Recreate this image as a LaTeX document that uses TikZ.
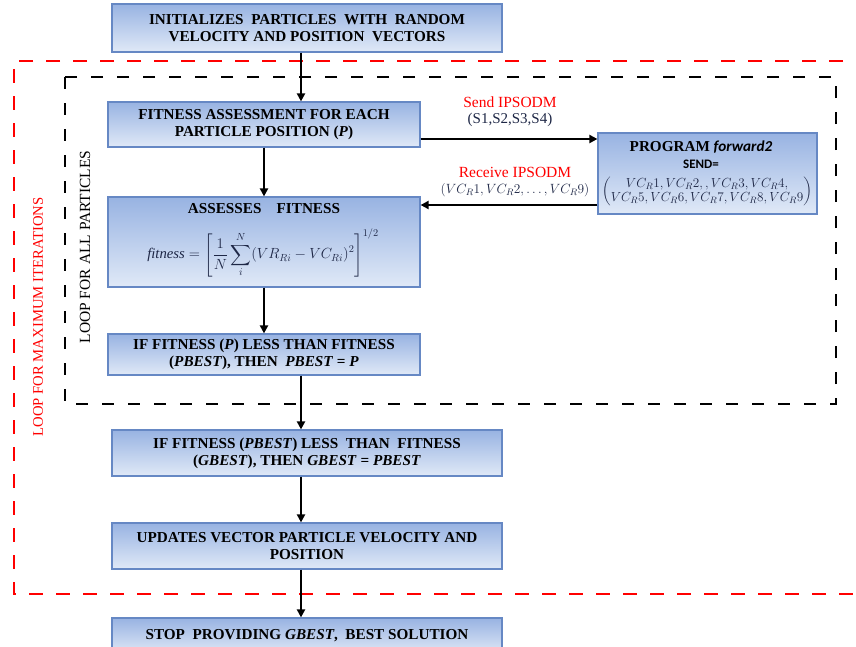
\documentclass[tikz,border=0pt]{standalone}
\usepackage{fix-cm}
\usepackage{amsmath}
\usepackage{fontspec}
\setmainfont{Liberation Serif}
\newfontfamily\calib{Carlito}
\usetikzlibrary{arrows.meta,calc}
\definecolor{boxtop}{HTML}{98B3E2}
\definecolor{boxbot}{HTML}{E0E9F7}
\definecolor{boxline}{HTML}{6688C4}
\definecolor{mathc}{HTML}{1E2746}
\definecolor{redl}{HTML}{FF0000}
\begin{document}
\begin{tikzpicture}[x=1pt,y=-1pt,
  flowbox/.style={draw=boxline,line width=1.2pt,top color=boxtop,bottom color=boxbot,
    inner sep=0pt,anchor=center,align=center,text=black,
    font=\fontsize{15.2}{17}\selectfont\bfseries},
  intext/.style={inner sep=0pt,anchor=center,align=center,text=black,
    font=\fontsize{15.2}{17}\selectfont\bfseries},
  arr/.style={line width=2.4pt,-{Triangle[length=8pt,width=8pt]}},
  lbl/.style={font=\fontsize{15}{17}\selectfont,inner sep=0pt,anchor=center},
  redloop/.style={draw=redl,line width=2.8pt,dash pattern=on 14pt off 13pt},
  blackloop/.style={draw=black,line width=2.8pt,dash pattern=on 12pt off 14pt}]
\clip (0,0) rectangle (856,646);
\fill[white] (0,0) rectangle (856,646);

% loops
\draw[redloop] (870,61) -- (14,61) -- (14,594) -- (870,594);
\draw[blackloop] (65,77) rectangle (836,404);

% boxes
\node[flowbox,minimum width=390pt,minimum height=48pt] (b1) at (307,28)
  {INITIALIZES\ \ PARTICLES\ \ WITH\ \ RANDOM\\VELOCITY AND POSITION\ \ VECTORS};
\node[flowbox,minimum width=312pt,minimum height=45pt] (b2) at (264,124.5)
  {FITNESS ASSESSMENT FOR EACH\\PARTICLE POSITION (\textit{P})};
\node[flowbox,minimum width=312pt,minimum height=90pt] (b3) at (264,242) {};
\node[intext] (b3t) at (264,209) {ASSESSES\quad FITNESS};
\node[intext,text=mathc,font=\fontsize{14.7}{17}\selectfont] (b3f) at (263,253)
  {$\displaystyle \mathit{fitness}=\left[\frac{1}{N}\sum_{i}^{N}(VR_{Ri}-VC_{Ri})^2\right]^{1/2}$};
\node[flowbox,minimum width=312pt,minimum height=41pt] (b4) at (264,354.5)
  {IF FITNESS (\textit{P}) LESS THAN FITNESS\\(\textit{PBEST}), THEN\ \ \textit{PBEST} = \textit{P}};
\node[flowbox,minimum width=390pt,minimum height=46pt] (b5) at (307,453)
  {IF FITNESS (\textit{PBEST}) LESS\ \ THAN\ \ FITNESS\\(\textit{GBEST}), THEN\ \textit{GBEST} = \textit{PBEST}};
\node[flowbox,minimum width=390pt,minimum height=46pt] (b6) at (307,546)
  {UPDATES VECTOR PARTICLE VELOCITY AND\\POSITION};
\node[flowbox,minimum width=390pt,minimum height=36pt] (b7) at (307,636)
  {STOP\ \ PROVIDING \textit{GBEST},\ \ BEST SOLUTION};
\node[flowbox,minimum width=219pt,minimum height=81pt] (prog) at (707.5,173.5) {};
\node[intext] (progt) at (701,147) {PROGRAM {\calib\itshape forward2}};
\node[intext,font=\calib\bfseries\fontsize{13}{14}\selectfont] (progs) at (701,164.5) {SEND=};
\node[intext,text=mathc,font=\fontsize{13.2}{15}\selectfont] (progm) at (707,191.5)
  {$\left(\renewcommand{\arraystretch}{0.95}\begin{array}{@{}c@{}}VC_R1,VC_R2,,VC_R3,VC_R4,\\VC_R5,VC_R6,VC_R7,VC_R8,VC_R9\end{array}\right)$};

% loop labels
\node[lbl,rotate=90,text=black,font=\fontsize{15.5}{17}\selectfont] (lap) at (85,247) {LOOP FOR ALL PARTICLES};
\node[lbl,rotate=90,text=redl,font=\fontsize{14.7}{17}\selectfont] (lmi) at (38,317) {LOOP FOR MAXIMUM ITERATIONS};

% vertical arrows
\coordinate (xa) at (301,0);
\draw[arr] (xa |- b1.south) -- (xa |- b2.north);
\draw[arr] (b2.south) -- (b3.north);
\draw[arr] (b3.south) -- (b4.north);
\draw[arr] (xa |- b4.south) -- (xa |- b5.north);
\draw[arr] (xa |- b5.south) -- (xa |- b6.north);
\draw[arr] (xa |- b6.south) -- (xa |- b7.north);

% send / receive
\coordinate (ys) at (0,139);
\coordinate (yr) at (0,205);
\draw[arr] (ys -| b2.east) -- (ys -| prog.west);
\draw[arr] (yr -| prog.west) -- (yr -| b3.east);
\node[lbl,text=redl,font=\fontsize{15.5}{17}\selectfont] (sl) at (510,102) {Send IPSODM};
\node[lbl,text=mathc] (sa) at (510,120) {(S1,S2,S3,S4)};
\node[lbl,text=redl,font=\fontsize{15.5}{17}\selectfont] (rl) at (515,172) {Receive IPSODM};
\node[lbl,text=mathc,font=\fontsize{13.4}{15}\selectfont] (ra) at (515,190) {$(VC_R1,VC_R2,\ldots,VC_R9)$};
\end{tikzpicture}
\end{document}
